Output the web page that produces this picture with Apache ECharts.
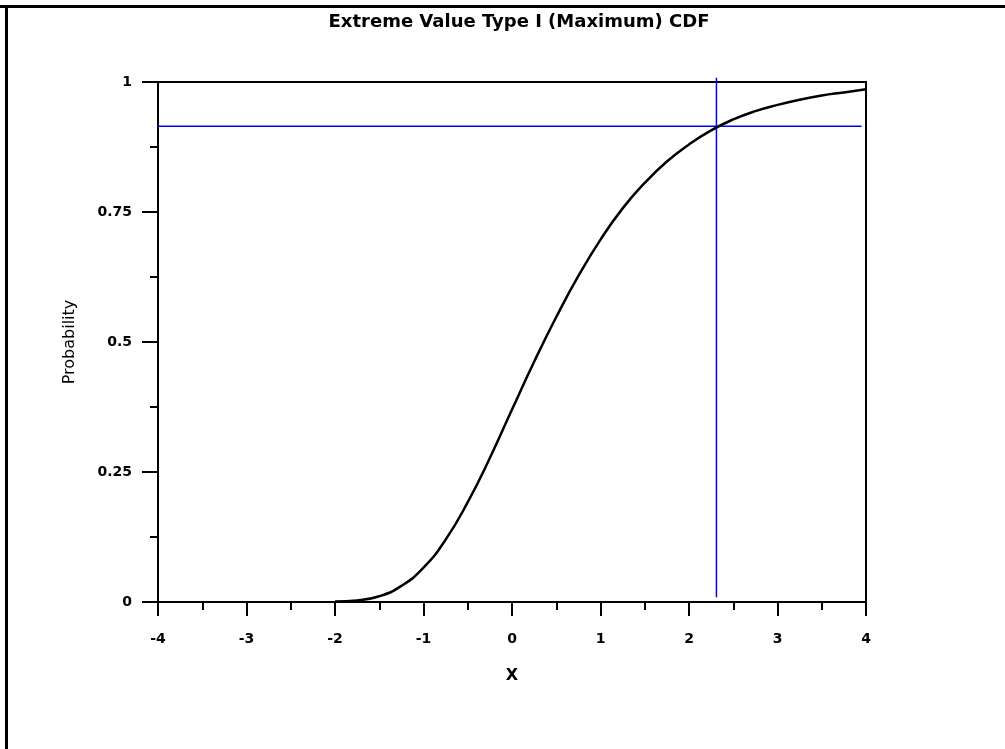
<!DOCTYPE html>
<html>
<head>
<meta charset="utf-8">
<script src="https://cdn.jsdelivr.net/npm/echarts@6/dist/echarts.min.js"></script>
<style>
html,body{margin:0;padding:0;background:#fff;}
#c{width:1005px;height:749px;}
</style>
</head>
<body>
<div id="c"></div>
<script>
// Curve values
var xValues = [-2, -1.75, -1.5, -1.25, -1, -0.75, -0.5, -0.25, 0, 0.25, 0.5, 0.75, 1, 1.25, 1.5, 1.75, 2, 2.25, 2.5, 2.75, 3, 3.25, 3.5, 3.75, 4];
var cdfValues = [0.001, 0.003, 0.011, 0.031, 0.066, 0.12, 0.192, 0.277, 0.370, 0.462, 0.548, 0.627, 0.697, 0.757, 0.806, 0.847, 0.880, 0.907, 0.928, 0.944, 0.956, 0.966, 0.974, 0.980, 0.986];
// Reference lines
var refX = 2.31;
var refXSpan = [0.009, 1.008];
var refP = 0.915;
var refPSpan = [-4, 3.95];
var yTickLabels = {0: '0', 0.25: '0.25', 0.5: '0.5', 0.75: '0.75', 1: '1'};

var curve = xValues.map(function (x, i) { return [x, cdfValues[i]]; });
var vLine = [[refX, refXSpan[0]], [refX, refXSpan[1]]];
var hLine = [[refPSpan[0], refP], [refPSpan[1], refP]];

var font = 'DejaVu Sans';
var chart = echarts.init(document.getElementById('c'), null, {renderer: 'canvas'});
chart.setOption({
  animation: false,
  backgroundColor: '#fff',
  title: {
    text: 'Extreme Value Type I (Maximum) CDF',
    left: 514, top: 8, textAlign: 'center',
    textStyle: {fontFamily: font, fontWeight: 'bold', fontSize: 18, color: '#000'}
  },
  grid: {left: 158, right: 139, top: 82, bottom: 147, show: true, borderColor: '#000', borderWidth: 2, backgroundColor: 'transparent'},
  xAxis: {
    type: 'value', min: -4, max: 4, interval: 1,
    name: 'X', nameLocation: 'middle', nameGap: 66,
    nameTextStyle: {fontFamily: font, fontWeight: 'bold', fontSize: 16, color: '#000'},
    axisLine: {show: true, onZero: false, lineStyle: {color: '#000', width: 2}},
    axisTick: {show: true, inside: false, length: 14, lineStyle: {color: '#000', width: 2}},
    minorTick: {show: true, splitNumber: 2, length: 8, lineStyle: {color: '#000', width: 2}},
    splitLine: {show: false},
    axisLabel: {margin: 30, fontFamily: font, fontWeight: 'bold', fontSize: 14, color: '#000'}
  },
  yAxis: {
    type: 'value', min: 0, max: 1, interval: 0.25,
    name: 'Probability', nameLocation: 'middle', nameGap: 80, nameRotate: 90,
    nameTextStyle: {fontFamily: font, fontSize: 16, color: '#000'},
    axisLine: {show: true, onZero: false, lineStyle: {color: '#000', width: 2}},
    axisTick: {show: true, inside: false, length: 16, lineStyle: {color: '#000', width: 2}},
    minorTick: {show: true, splitNumber: 2, length: 8, lineStyle: {color: '#000', width: 2}},
    splitLine: {show: false},
    axisLabel: {margin: 26, fontFamily: font, fontWeight: 'bold', fontSize: 14, color: '#000',
      formatter: function (v) { return yTickLabels[v] !== undefined ? yTickLabels[v] : v; }}
  },
  graphic: [
    {type: 'line', shape: {x1: 0, y1: 6.5, x2: 1005, y2: 6.5}, style: {stroke: '#000', lineWidth: 3}},
    {type: 'line', shape: {x1: 6.5, y1: 5, x2: 6.5, y2: 749}, style: {stroke: '#000', lineWidth: 3}}
  ],
  series: [
    {type: 'line', data: hLine, symbol: 'none', clip: false, lineStyle: {color: '#0000ff', width: 1.5}, z: 3},
    {type: 'line', data: vLine, symbol: 'none', clip: false, lineStyle: {color: '#0000ff', width: 1.5}, z: 3},
    {type: 'line', data: curve, symbol: 'none', smooth: true, clip: false, lineStyle: {color: '#000', width: 2.5}, z: 4}
  ]
});
</script>
</body>
</html>
